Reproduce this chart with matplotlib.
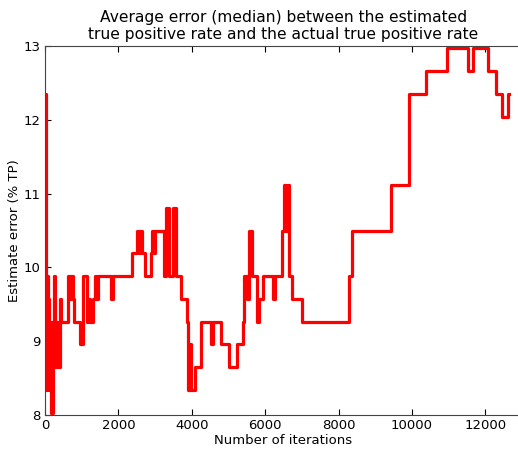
import matplotlib
matplotlib.use('Agg')
import matplotlib.pyplot as plt

# iteration at which the median error changes, and the new value (% TP)
iterations = [0, 25, 60, 90, 120, 150, 170, 210, 240, 270, 300, 330, 350, 400, 440,
              640, 690, 720, 760, 790, 960, 1040, 1140, 1180, 1240, 1300, 1370, 1400,
              1440, 1800, 1850, 2360, 2500, 2560, 2590, 2640, 2730, 2880, 2920, 2960,
              3000, 3240, 3290, 3380, 3480, 3580, 3720,
              3860, 3910, 3960, 3990, 4090, 4240, 4260, 4530, 4580, 4800, 5010, 5230,
              5390, 5430, 5500, 5560, 5640, 5790, 5840, 5945, 6220, 6270, 6455, 6520,
              6570, 6610, 6660, 6730, 7000, 8280, 8360, 9435, 9920, 10380, 10950,
              11540, 11660, 12060, 12290, 12450, 12610, 12640]
errors = [12.35, 8.34, 9.88, 9.57, 8.34, 9.26, 8.03, 8.65, 9.88, 8.96, 8.65, 9.26, 8.65, 9.57, 9.26,
          9.88, 9.57, 9.88, 9.57, 9.26, 8.96, 9.88, 9.26, 9.57, 9.26, 9.57, 9.88, 9.57,
          9.88, 9.57, 9.88, 10.19, 10.5, 10.19, 10.5, 10.19, 9.88, 10.19, 10.5, 10.19,
          10.5, 9.88, 10.8, 9.88, 10.8, 9.88, 9.57,
          9.26, 8.34, 8.96, 8.34, 8.65, 8.96, 9.26, 8.96, 9.26, 8.96, 8.65, 8.96,
          9.26, 9.88, 9.57, 10.5, 9.88, 9.26, 9.57, 9.88, 9.57, 9.88, 10.5, 11.12,
          10.5, 11.12, 9.88, 9.57, 9.26, 9.88, 10.5, 11.12, 12.35, 12.66, 12.97,
          12.66, 12.97, 12.66, 12.35, 12.04, 12.35, 12.35]

fig = plt.figure(figsize=(5.18, 4.49), dpi=100)
ax = fig.add_axes([45 / 518, 34 / 449, 477 / 518, 369 / 449])

ax.plot(iterations, errors, color='red', lw=2.3, drawstyle='steps-post')

ax.set_xlim(0, 13000)
ax.set_ylim(8, 13)
ax.set_xticks(range(0, 13000, 2000))
ax.set_yticks(range(8, 14))
ax.tick_params(direction='in', top=True, right=False, labelsize=9.5, pad=3, length=4)
for s in ax.spines.values():
    s.set_color('#444444')

ax.set_xlabel('Number of iterations', fontsize=9.5, labelpad=1)
ax.set_ylabel('Estimate error (% TP)', fontsize=9.5, labelpad=2)
ax.set_title('Average error (median) between the estimated\n'
             'true positive rate and the actual true positive rate',
             fontsize=11.2, pad=5, linespacing=1.15)

fig.savefig('out.png', dpi=100)
